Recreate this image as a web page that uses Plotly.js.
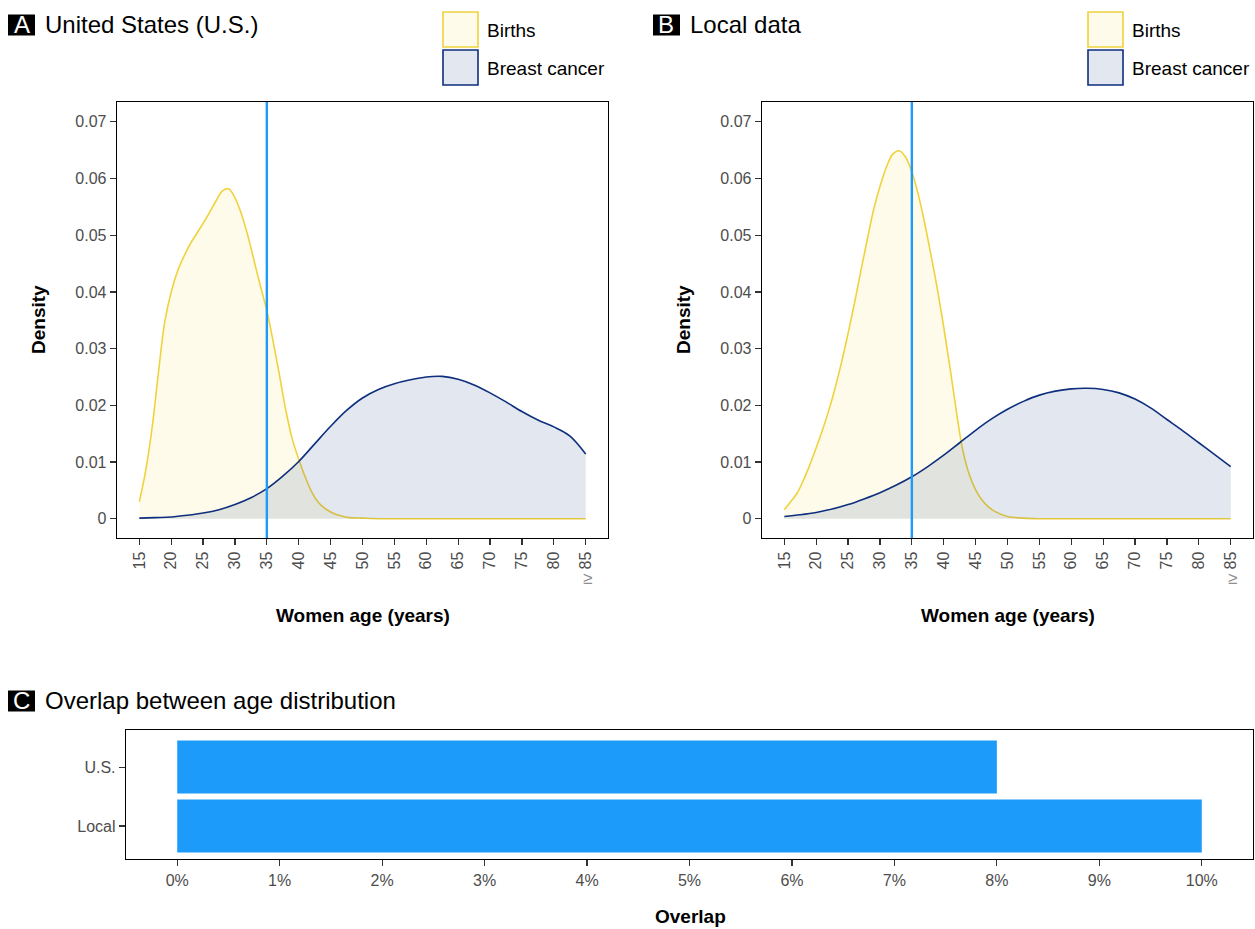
<!DOCTYPE html>
<html>
<head>
<meta charset="utf-8">
<script src="https://cdn.plot.ly/plotly-3.0.1.min.js"></script>
<style>html,body{margin:0;padding:0;background:#fff;}#chart{width:1255px;height:929px;}</style>
</head>
<body>
<div id="chart"></div>
<script>
// ---------------- DATA ----------------
// ages at which the birth densities were read (finer where the curve bends)
const birthAges = [15, 16, 17, 18, 19, 20, 21, 22, 23, 24, 25, 26, 27, 28, 29, 30, 31, 32, 33, 34,
                   35, 36, 37, 38, 39, 40, 41, 42, 43, 44, 45, 46, 47, 48, 50, 52.5, 55, 60, 65,
                   70, 75, 80, 85];
// ages at which the breast cancer densities were read
const cancerAges = [15, 17.5, 20, 22.5, 25, 27.5, 30, 32.5, 35, 37.5, 40, 42.5, 45, 47.5, 50,
                    52.5, 55, 57.5, 60, 62.5, 65, 67.5, 70, 72.5, 75, 77.5, 80, 82.5, 85];
const ageTicks = [15, 20, 25, 30, 35, 40, 45, 50, 55, 60, 65, 70, 75, 80, 85];
const densityTicks = [0, 0.01, 0.02, 0.03, 0.04, 0.05, 0.06, 0.07];
const densityTickText = ['0', '0.01', '0.02', '0.03', '0.04', '0.05', '0.06', '0.07'];

// Panel A: United States
const usBirths = [0.0030, 0.0085, 0.0160, 0.0258, 0.0348, 0.0400, 0.0437, 0.0463, 0.0485, 0.0503,
                  0.0521, 0.0540, 0.0560, 0.0578, 0.0582, 0.0566, 0.0538, 0.0500, 0.0455, 0.0410,
                  0.0367, 0.0312, 0.0252, 0.0190, 0.0140, 0.0105, 0.0074, 0.0048, 0.0030, 0.0019,
                  0.0012, 0.0007, 0.0004, 0.0002, 0.0001, 0.0000, 0.0000, 0.0000, 0.0000,
                  0.0000, 0.0000, 0.0000, 0.0000];
const usCancer = [0.0001, 0.0002, 0.0003, 0.0006, 0.0010, 0.0016, 0.0025, 0.0037, 0.0053, 0.0075,
                  0.0101, 0.0132, 0.0163, 0.0191, 0.0213, 0.0228, 0.0238, 0.0245, 0.0250, 0.0251,
                  0.0246, 0.0236, 0.0222, 0.0206, 0.0189, 0.0174, 0.0162, 0.0146, 0.0114];

// Panel B: Local data
const localBirths = [0.0016, 0.0030, 0.0045, 0.0068, 0.0095, 0.0125, 0.0157, 0.0192, 0.0232, 0.0277,
                     0.0327, 0.0380, 0.0437, 0.0492, 0.0545, 0.0586, 0.0620, 0.0643, 0.0649, 0.0638,
                     0.0612, 0.0572, 0.0522, 0.0465, 0.0405, 0.0338, 0.0265, 0.0188, 0.0120, 0.0078,
                     0.0051, 0.0033, 0.0021, 0.0013, 0.0004, 0.0001, 0.0000, 0.0000, 0.0000,
                     0.0000, 0.0000, 0.0000, 0.0000];
const localCancer = [0.0004, 0.0007, 0.0011, 0.0017, 0.0025, 0.0035, 0.0046, 0.0059, 0.0074, 0.0092,
                     0.0112, 0.0134, 0.0156, 0.0176, 0.0193, 0.0207, 0.0218, 0.0225, 0.0229, 0.0230,
                     0.0228, 0.0222, 0.0211, 0.0195, 0.0175, 0.0155, 0.0134, 0.0113, 0.0092];

const cutoffAge = 35;

// Panel C: Overlap
const overlapGroups = ['Local', 'U.S.'];
const overlapValues = [0.10, 0.08];
const overlapTicks = [0, 0.01, 0.02, 0.03, 0.04, 0.05, 0.06, 0.07, 0.08, 0.09, 0.10];
const overlapTickText = ['0%', '1%', '2%', '3%', '4%', '5%', '6%', '7%', '8%', '9%', '10%'];

const seriesNames = ['Births', 'Breast cancer'];

// ---------------- STYLE ----------------
const W = 1255, H = 929;
const FONT = 'Liberation Sans, Arial, Helvetica, sans-serif';
const birthLine = '#F0D23C';
const birthFill = 'rgba(250,215,60,0.10)';
const cancerLine = '#0E2F7D';
const cancerFill = 'rgba(20,55,130,0.12)';
const blue = '#1C9BFA';
const tickGray = '#4D4D4D';

const px = v => v / W;
const py = v => 1 - v / H;

function densityTraces(xa, ya, births, cancer) {
  return [
    {x: birthAges, y: births, xaxis: xa, yaxis: ya, type: 'scatter', mode: 'lines',
     line: {color: birthLine, width: 1.6, shape: 'spline', smoothing: 1},
     fill: 'tozeroy', fillcolor: birthFill, name: seriesNames[0], showlegend: false, hoverinfo: 'x+y'},
    {x: cancerAges, y: cancer, xaxis: xa, yaxis: ya, type: 'scatter', mode: 'lines',
     line: {color: cancerLine, width: 1.6, shape: 'spline', smoothing: 1},
     fill: 'tozeroy', fillcolor: cancerFill, name: seriesNames[1], showlegend: false, hoverinfo: 'x+y'}
  ];
}

const traces = [
  ...densityTraces('x', 'y', usBirths, usCancer),
  ...densityTraces('x2', 'y2', localBirths, localCancer),
  {x: overlapValues, y: overlapGroups, xaxis: 'x3', yaxis: 'y3', type: 'bar', orientation: 'h',
   marker: {color: blue}, width: 0.9, showlegend: false, hoverinfo: 'x+y'}
];

function ageAxis(domain, anchor) {
  return {domain: domain, anchor: anchor, range: [11.5, 88.5], tickvals: ageTicks,
    ticktext: ageTicks.map(String), tickangle: -90, ticks: 'outside', ticklen: 6, tickwidth: 1.2,
    tickcolor: '#333', tickfont: {family: FONT, size: 16, color: tickGray},
    showline: true, mirror: true, linecolor: '#000', linewidth: 1.3,
    showgrid: false, zeroline: false, fixedrange: true};
}
function densAxis(domain, anchor) {
  return {domain: domain, anchor: anchor, range: [-0.0034, 0.0735], tickvals: densityTicks,
    ticktext: densityTickText, ticks: 'outside', ticklen: 6, tickwidth: 1.2, tickcolor: '#333',
    tickfont: {family: FONT, size: 16, color: tickGray},
    showline: true, mirror: true, linecolor: '#000', linewidth: 1.3,
    showgrid: false, zeroline: false, fixedrange: true};
}

const yDomAB = [py(538), py(102)];

const layout = {
  width: W, height: H,
  margin: {l: 0, r: 0, t: 0, b: 0},
  paper_bgcolor: '#fff', plot_bgcolor: '#fff',
  font: {family: FONT, color: '#000'},
  showlegend: false,
  xaxis: ageAxis([px(117), px(608)], 'y'),
  yaxis: densAxis(yDomAB, 'x'),
  xaxis2: ageAxis([px(762), px(1253)], 'y2'),
  yaxis2: densAxis(yDomAB, 'x2'),
  xaxis3: {domain: [px(126), px(1253)], anchor: 'y3', range: [-0.005, 0.105],
    tickvals: overlapTicks, ticktext: overlapTickText, ticks: 'outside', ticklen: 6, tickwidth: 1.2,
    tickcolor: '#333', tickfont: {family: FONT, size: 16, color: tickGray},
    showline: true, mirror: true, linecolor: '#000', linewidth: 1.3,
    showgrid: false, zeroline: false, fixedrange: true},
  yaxis3: {domain: [py(859), py(730)], anchor: 'x3', type: 'category',
    categoryorder: 'array', categoryarray: overlapGroups, range: [-0.56, 1.63],
    ticks: 'outside', ticklen: 6, tickwidth: 1.2, tickcolor: '#333',
    tickfont: {family: FONT, size: 16, color: tickGray},
    showline: true, mirror: true, linecolor: '#000', linewidth: 1.3,
    showgrid: false, zeroline: false, fixedrange: true},
  shapes: [],
  annotations: []
};

// cutoff lines at 35
['x', 'x2'].forEach((xa, i) => {
  layout.shapes.push({type: 'line', xref: xa, yref: (i === 0 ? 'y' : 'y2') + ' domain',
    x0: cutoffAge, x1: cutoffAge, y0: 0, y1: 1, line: {color: blue, width: 2.4}, layer: 'above'});
});

// panel headings
function heading(letter, text, x0, yc) {
  layout.shapes.push({type: 'rect', xref: 'paper', yref: 'paper',
    x0: px(x0), x1: px(x0 + 27), y0: py(yc + 10.5), y1: py(yc - 10.5),
    fillcolor: '#000', line: {width: 0}});
  layout.annotations.push({xref: 'paper', yref: 'paper', x: px(x0 + 13.5), y: py(yc - 1),
    text: letter, showarrow: false, xanchor: 'center', yanchor: 'middle',
    font: {family: FONT, size: 24, color: '#fff'}});
  layout.annotations.push({xref: 'paper', yref: 'paper', x: px(x0 + 35), y: py(yc - 1),
    text: text, showarrow: false, xanchor: 'left', yanchor: 'middle',
    font: {family: FONT, size: 24, color: '#000'}});
}
heading('A', 'United States (U.S.)', 8, 25);
heading('B', 'Local data', 653, 25);
heading('C', 'Overlap between age distribution', 8, 701);

// legends
function legend(x0) {
  const items = [[seriesNames[0], birthLine, birthFill, 12], [seriesNames[1], cancerLine, cancerFill, 50]];
  items.forEach(([name, lc, fc, top]) => {
    layout.shapes.push({type: 'rect', xref: 'paper', yref: 'paper',
      x0: px(x0), x1: px(x0 + 35), y0: py(top + 35), y1: py(top),
      fillcolor: fc, line: {color: lc, width: 1.6}});
    layout.annotations.push({xref: 'paper', yref: 'paper', x: px(x0 + 42), y: py(top + 18.5),
      text: name, showarrow: false, xanchor: 'left', yanchor: 'middle',
      font: {family: FONT, size: 19, color: '#000'}});
  });
}
legend(443);
legend(1088);

// axis titles
function axisTitle(text, x, y, angle) {
  layout.annotations.push({xref: 'paper', yref: 'paper', x: px(x), y: py(y), text: '<b>' + text + '</b>',
    showarrow: false, xanchor: 'center', yanchor: 'middle', textangle: angle || 0,
    font: {family: FONT, size: 19, color: '#000'}});
}
axisTitle('Density', 38, 320, -90);
axisTitle('Density', 683, 320, -90);
axisTitle('Women age (years)', 363, 615);
axisTitle('Women age (years)', 1008, 615);
axisTitle('Overlap', 690, 916);

// ">=" marker under the 85 tick
[586, 1231].forEach(x => {
  layout.annotations.push({xref: 'paper', yref: 'paper', x: px(x + 1), y: py(578), text: '≥',
    showarrow: false, xanchor: 'center', yanchor: 'middle',
    font: {family: FONT, size: 17, color: '#8f8f8f'}});
});

Plotly.newPlot('chart', traces, layout, {displayModeBar: false, staticPlot: true});
</script>
</body>
</html>
